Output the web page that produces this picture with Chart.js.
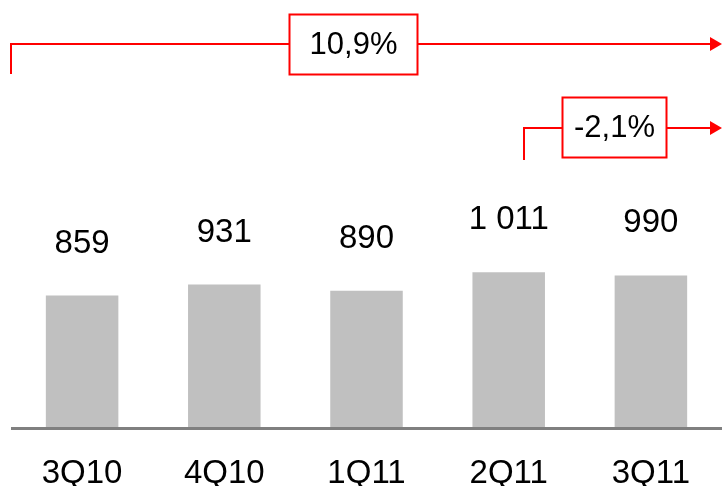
<!DOCTYPE html>
<html>
<head>
<meta charset="utf-8">
<script src="https://cdn.jsdelivr.net/npm/chart.js@4"></script>
<style>
  html, body { margin: 0; padding: 0; background: #fff; }
  #wrap { width: 722px; height: 486px; position: relative; }
</style>
</head>
<body>
<div id="wrap"><canvas id="c"></canvas></div>
<script>
const categories = ['3Q10', '4Q10', '1Q11', '2Q11', '3Q11'];
const values = [859, 931, 890, 1011, 990];
const valueLabels = ['859', '931', '890', '1 011', '990'];
const growthLabels = ['10,9%', '-2,1%'];

const FONT = '"Liberation Sans", Arial, sans-serif';
const RED = '#ff0000';

function arrowHead(ctx, x, y) {
  ctx.beginPath();
  ctx.moveTo(x, y);
  ctx.lineTo(x - 12, y - 7);
  ctx.lineTo(x - 12, y + 7);
  ctx.closePath();
  ctx.fill();
}

function growthArrow(ctx, xStart, yBottom, yLine, xEnd, box, text, fontSize) {
  ctx.save();
  ctx.strokeStyle = RED;
  ctx.fillStyle = RED;
  ctx.lineWidth = 2;
  ctx.beginPath();
  ctx.moveTo(xStart, yBottom);
  ctx.lineTo(xStart, yLine);
  ctx.lineTo(xEnd - 10, yLine);
  ctx.stroke();
  arrowHead(ctx, xEnd, yLine);
  ctx.fillStyle = '#fff';
  ctx.fillRect(box.x, box.y, box.w, box.h);
  ctx.strokeRect(box.x + 0.5, box.y + 0.5, box.w - 1, box.h - 1);
  ctx.fillStyle = '#000';
  ctx.font = fontSize + 'px ' + FONT;
  ctx.textAlign = 'center';
  ctx.textBaseline = 'middle';
  ctx.fillText(text, box.x + box.w / 2, box.y + box.h / 2 + 1);
  ctx.restore();
}

const overlay = {
  id: 'overlay',
  afterDatasetsDraw(chart) {
    const ctx = chart.ctx;
    const xs = chart.scales.x;
    const area = chart.chartArea;
    const meta = chart.getDatasetMeta(0);
    // baseline
    ctx.save();
    ctx.strokeStyle = '#808080';
    ctx.lineWidth = 3;
    ctx.beginPath();
    ctx.moveTo(11, area.bottom + 1.5);
    ctx.lineTo(722, area.bottom + 1.5);
    ctx.stroke();
    // category labels
    ctx.fillStyle = '#000';
    ctx.font = '33px ' + FONT;
    ctx.textAlign = 'center';
    ctx.textBaseline = 'alphabetic';
    categories.forEach((c, i) => {
      ctx.fillText(c, xs.getPixelForValue(i), 483);
    });
    // value labels
    meta.data.forEach((bar, i) => {
      ctx.fillText(valueLabels[i], bar.x, bar.y - 43);
    });
    ctx.restore();
    // growth annotations
    growthArrow(ctx, 11, 74, 44, 722, {x: 289, y: 14, w: 129, h: 61}, growthLabels[0], 31);
    growthArrow(ctx, 524, 160, 128, 722, {x: 562, y: 97, w: 105, h: 61}, growthLabels[1], 31);
  }
};

new Chart(document.getElementById('c'), {
  type: 'bar',
  data: {
    labels: categories,
    datasets: [{
      data: values,
      backgroundColor: '#c0c0c0',
      borderWidth: 0,
      categoryPercentage: 1,
      barPercentage: 0.51
    }]
  },
  options: {
    responsive: true,
    maintainAspectRatio: false,
    animation: false,
    layout: { padding: { left: 11, right: 0, top: 0, bottom: 59 } },
    plugins: { legend: { display: false }, tooltip: { enabled: false } },
    scales: {
      x: { display: false },
      y: { display: false, min: 0, max: 2790 }
    }
  },
  plugins: [overlay]
});
</script>
</body>
</html>
